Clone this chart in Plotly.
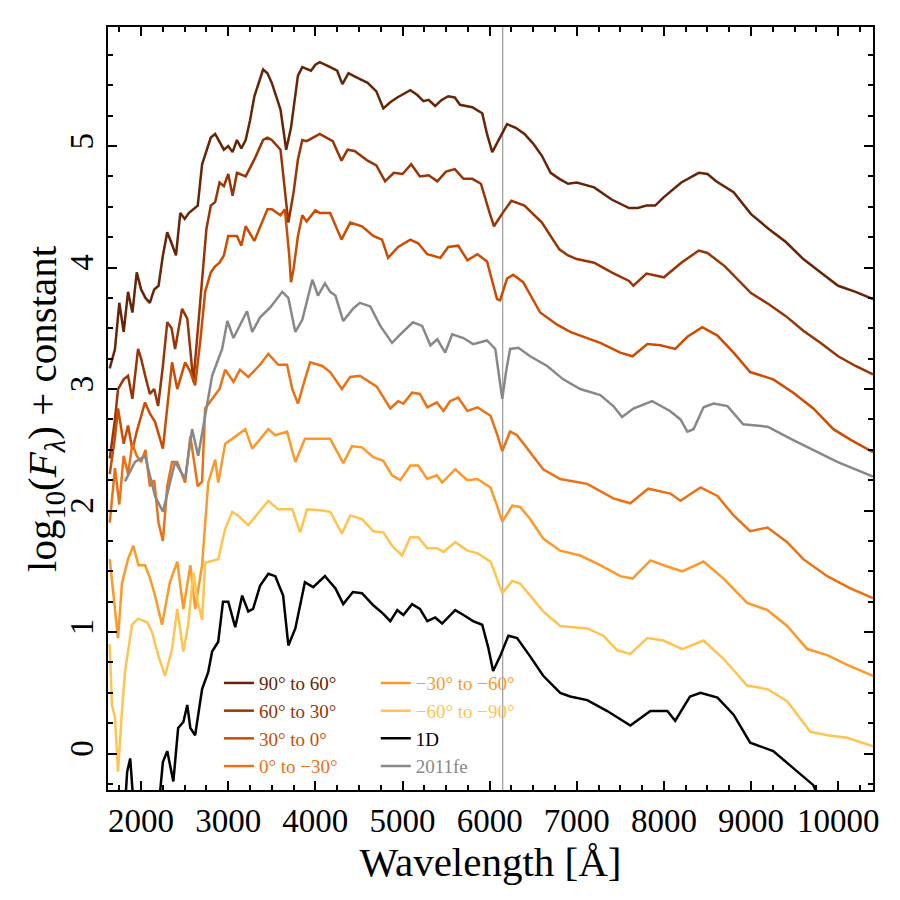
import plotly.graph_objects as go

# ---------------- data ----------------
wl_s1 = [1640,1700,1750,1800,1850,1900,1950,2000,2050,2100,2150,2200,2250,2300,2350,2400,2450,2500,2550,2600,2650,2700,2750,2800,2850,2900,2950,3000,3050,3100,3150,3200,3250,3300,3400,3450,3500,3600,3665,3720,3770,3800,3850,3950,4000,4050,4170,4250,4310,4380,4460,4600,4700,4780,4860,4940,5090,5170,5240,5300,5375,5450,5525,5600,5660,5800,5915,5970,6030,6100,6200,6300,6400,6500,6600,6700,6800,6900,7000,7200,7400,7600,7700,7800,7900,8000,8200,8400,8500,8600,8800,9000,9200,9400,9600,9800,10000,10200,10400]
fx_s1 = [3.17,3.33,3.71,3.47,3.80,3.63,3.96,3.82,3.75,3.71,3.82,3.85,4.10,4.29,4.20,4.10,4.45,4.40,4.45,4.48,4.51,4.85,4.97,5.07,5.10,5.04,4.97,5.00,4.95,5.05,4.98,5.05,5.21,5.41,5.63,5.60,5.52,5.30,4.97,5.15,5.40,5.58,5.65,5.62,5.67,5.69,5.65,5.62,5.51,5.60,5.57,5.52,5.45,5.31,5.36,5.40,5.46,5.42,5.37,5.38,5.33,5.38,5.41,5.40,5.34,5.32,5.27,5.10,4.95,5.05,5.18,5.15,5.10,5.02,4.92,4.78,4.73,4.69,4.70,4.66,4.56,4.49,4.49,4.51,4.51,4.58,4.70,4.78,4.77,4.71,4.62,4.44,4.32,4.21,4.07,3.96,3.85,3.80,3.74]

wl_s2 = [1640,1700,1735,1800,1850,1900,1965,2000,2050,2100,2150,2195,2250,2300,2350,2390,2470,2530,2600,2650,2700,2750,2800,2850,2900,2950,3000,3050,3100,3200,3300,3400,3450,3500,3600,3650,3690,3750,3800,3850,3900,4000,4050,4200,4300,4370,4450,4600,4700,4800,4900,5000,5100,5200,5300,5400,5500,5600,5700,5800,5900,6000,6050,6150,6250,6400,6600,6800,6900,7000,7200,7400,7600,7650,7800,8000,8200,8400,8500,8700,9000,9200,9400,9600,9800,10000,10200,10400]
fx_s2 = [2.43,2.75,3.00,3.08,3.11,2.92,3.33,3.25,3.10,2.96,3.00,2.86,3.19,3.55,3.50,3.33,3.66,3.58,3.06,3.49,3.93,4.32,4.51,4.54,4.70,4.67,4.77,4.59,4.78,4.75,4.89,5.05,5.07,5.05,4.97,4.64,4.37,4.62,4.89,5.05,5.04,5.08,5.10,5.04,4.88,4.97,4.96,4.88,4.84,4.71,4.78,4.77,4.85,4.75,4.76,4.71,4.79,4.81,4.73,4.73,4.69,4.45,4.34,4.45,4.55,4.51,4.37,4.15,4.10,4.07,4.04,3.96,3.89,3.85,3.95,3.92,4.04,4.14,4.12,4.01,3.79,3.70,3.60,3.48,3.38,3.27,3.19,3.12]

wl_s3 = [1640,1700,1735,1800,1850,1900,1950,2045,2100,2160,2250,2300,2355,2415,2505,2560,2620,2680,2735,2800,2850,2900,2950,3000,3100,3150,3200,3300,3400,3450,3500,3600,3650,3700,3720,3750,3800,3850,3900,4000,4050,4170,4300,4400,4535,4665,4765,4835,4950,5090,5180,5285,5435,5525,5640,5745,5860,5970,6085,6120,6200,6270,6385,6580,6775,6925,7040,7270,7500,7640,7810,7960,8130,8270,8440,8615,8800,8990,9255,9485,9715,9945,10150,10400]
fx_s3 = [2.30,2.60,2.84,2.55,2.70,2.50,2.65,2.89,2.80,2.73,2.51,2.85,3.22,3.00,3.22,3.15,3.03,3.40,3.80,3.96,4.01,4.04,4.10,4.26,4.26,4.18,4.34,4.22,4.40,4.48,4.48,4.43,4.48,4.10,3.88,3.99,4.26,4.43,4.38,4.47,4.45,4.45,4.23,4.37,4.34,4.26,4.23,4.08,4.17,4.23,4.20,4.11,4.08,4.17,4.18,4.06,4.11,4.05,3.74,3.73,3.91,3.94,3.88,3.63,3.53,3.47,3.44,3.38,3.30,3.27,3.37,3.36,3.33,3.43,3.51,3.44,3.30,3.14,3.08,2.97,2.84,2.67,2.58,2.48]

wl_s4 = [1640,1700,1750,1800,1850,1900,1950,2000,2050,2100,2150,2200,2250,2300,2355,2415,2505,2565,2650,2700,2735,2815,2900,2965,3060,3135,3230,3365,3460,3575,3675,3735,3800,3880,3940,4080,4170,4305,4400,4510,4705,4860,4950,5010,5110,5200,5285,5395,5470,5545,5640,5745,5860,6010,6085,6145,6235,6315,6465,6615,6810,7120,7420,7615,7820,8075,8190,8420,8615,8800,8990,9190,9415,9600,9875,10140,10400]
fx_s4 = [1.90,2.35,2.05,2.45,2.30,2.55,2.45,2.40,2.50,2.20,2.25,1.90,1.75,2.20,2.40,2.40,2.23,2.61,2.20,2.24,2.84,2.92,3.00,3.16,3.06,3.16,3.10,3.20,3.29,3.20,3.20,3.00,2.88,3.08,3.22,3.19,3.14,3.00,3.10,3.11,3.02,2.84,2.90,2.88,2.97,2.96,2.85,2.89,2.82,2.90,2.93,2.82,2.85,2.78,2.63,2.49,2.65,2.62,2.48,2.34,2.26,2.22,2.10,2.06,2.18,2.14,2.08,2.19,2.12,1.96,1.83,1.86,1.74,1.60,1.46,1.36,1.28]

wl_s5 = [1640,1700,1735,1780,1850,1910,1970,2045,2100,2160,2240,2330,2415,2485,2565,2620,2700,2770,2850,2885,2965,3045,3195,3275,3460,3540,3675,3770,3880,4080,4170,4320,4420,4535,4665,4780,4880,4975,5090,5180,5285,5395,5455,5605,5745,5860,6010,6085,6145,6260,6350,6465,6615,6810,7040,7270,7500,7640,7845,8040,8210,8455,8685,8955,9190,9415,9645,9875,10105,10400]
fx_s5 = [1.60,1.20,0.95,1.40,1.60,1.71,1.55,1.55,1.45,1.30,1.06,1.41,1.58,1.19,1.55,1.19,1.55,2.23,2.42,2.23,2.55,2.59,2.67,2.51,2.67,2.62,2.65,2.40,2.59,2.59,2.59,2.39,2.53,2.52,2.44,2.41,2.29,2.25,2.37,2.37,2.26,2.29,2.23,2.34,2.25,2.26,2.19,2.04,1.91,2.04,2.03,1.93,1.77,1.67,1.63,1.55,1.46,1.44,1.59,1.54,1.50,1.58,1.44,1.24,1.18,1.05,0.86,0.81,0.73,0.64]

wl_s6 = [1640,1665,1700,1735,1780,1815,1895,1965,2070,2125,2200,2275,2355,2415,2485,2540,2600,2650,2700,2735,2885,2965,3045,3110,3230,3460,3575,3735,3825,3905,4080,4170,4305,4400,4535,4665,4780,4880,4995,5090,5180,5285,5395,5470,5605,5745,5860,6010,6085,6145,6260,6350,6465,6615,6810,7120,7305,7465,7615,7810,7995,8210,8455,8685,8955,9190,9415,9680,9875,10105,10400]
fx_s6 = [0.90,0.40,0.30,-0.15,0.35,0.67,1.06,1.11,1.08,1.00,0.80,0.64,0.86,1.19,0.84,1.06,1.49,1.25,1.10,1.57,1.60,1.85,1.99,1.96,1.88,2.08,2.01,2.01,1.82,2.01,2.00,1.99,1.81,1.96,1.93,1.83,1.82,1.71,1.63,1.78,1.78,1.69,1.69,1.66,1.74,1.67,1.65,1.58,1.44,1.32,1.42,1.40,1.30,1.17,1.05,1.03,0.97,0.85,0.82,0.95,0.93,0.86,0.93,0.78,0.56,0.53,0.43,0.18,0.15,0.13,0.06]

wl_1d = [1800,1840,1875,1900,1950,2100,2200,2250,2300,2370,2425,2485,2530,2565,2620,2700,2770,2815,2885,2940,3000,3080,3160,3230,3285,3365,3460,3540,3630,3690,3770,3850,3880,3975,4110,4170,4230,4320,4430,4535,4665,4780,4860,4940,5010,5110,5200,5285,5375,5455,5605,5700,5810,5915,5985,6040,6120,6215,6315,6465,6615,6810,6925,7120,7350,7615,7845,8040,8130,8300,8420,8615,8800,8990,9255,9485,9715,9800]
fx_1d = [-0.60,-0.15,-0.04,-0.29,-0.60,-0.80,-0.45,-0.07,0.02,-0.23,0.21,0.26,0.40,0.21,0.15,0.53,0.67,0.84,0.92,1.25,1.25,1.04,1.30,1.17,1.19,1.38,1.48,1.46,1.30,0.89,1.03,1.33,1.41,1.37,1.46,1.41,1.36,1.23,1.33,1.32,1.22,1.15,1.09,1.18,1.14,1.23,1.19,1.09,1.12,1.07,1.18,1.14,1.09,1.06,0.87,0.68,0.80,0.97,0.95,0.80,0.64,0.50,0.47,0.44,0.35,0.23,0.35,0.35,0.27,0.47,0.50,0.46,0.32,0.09,0.02,-0.12,-0.26,-0.40]

wl_fe = [1815,1930,2045,2160,2250,2390,2505,2585,2655,2735,2815,2930,2990,3060,3215,3275,3365,3480,3620,3690,3770,3850,3965,4030,4110,4170,4230,4320,4430,4510,4630,4745,4880,4975,5120,5225,5320,5400,5490,5570,5700,5810,5970,6065,6110,6145,6190,6235,6330,6465,6660,6845,7040,7270,7420,7520,7650,7865,8070,8190,8270,8340,8455,8570,8730,8910,9190,9485,9990,10400]
fx_fe = [2.24,2.40,2.45,2.12,1.99,2.40,2.26,2.67,2.45,2.78,3.11,3.33,3.56,3.42,3.64,3.47,3.59,3.67,3.80,3.75,3.47,3.57,3.90,3.77,3.87,3.80,3.77,3.56,3.66,3.71,3.68,3.52,3.38,3.45,3.55,3.52,3.36,3.41,3.30,3.45,3.42,3.37,3.40,3.33,3.10,2.92,3.15,3.33,3.34,3.27,3.19,3.08,3.00,2.95,2.86,2.77,2.84,2.90,2.82,2.75,2.65,2.67,2.85,2.88,2.86,2.71,2.69,2.58,2.40,2.28]

labels = ["90° to 60°", "60° to 30°", "30° to 0°", "0° to −30°",
          "−30° to −60°", "−60° to −90°", "1D", "2011fe"]
colors = ["#662506", "#993404", "#cc4c02", "#ec7014",
          "#fe9929", "#fec44f", "#000000", "#888888"]
series_wl = [wl_s1, wl_s2, wl_s3, wl_s4, wl_s5, wl_s6, wl_1d, wl_fe]
series_fx = [fx_s1, fx_s2, fx_s3, fx_s4, fx_s5, fx_s6, fx_1d, fx_fe]

x_ticks = [2000, 3000, 4000, 5000, 6000, 7000, 8000, 9000, 10000]
y_ticks = [0, 1, 2, 3, 4, 5]

SI_LINE = 6150
X_RANGE = [1620, 10400]
Y_RANGE = [-0.3, 5.98]

FONT = "Liberation Serif"

fig = go.Figure()
for i, (w, f, lab, c) in enumerate(zip(series_wl, series_fx, labels, colors)):
    fig.add_trace(go.Scatter(
        x=w, y=f, mode="lines",
        line=dict(color=c, width=2.5),
        name=f'<span style="color:{c}">{lab}</span>',
        legend="legend" if i < 4 else "legend2",
    ))

fig.add_vline(x=SI_LINE, line=dict(color="#999999", width=1.2), layer="below")

axis_common = dict(
    showgrid=False, zeroline=False,
    showline=True, linecolor="black", linewidth=2.2, mirror="allticks",
    ticks="inside", ticklen=9, tickwidth=2, tickcolor="black",
    tickfont=dict(family=FONT, size=33, color="black"),
)

fig.update_xaxes(
    range=X_RANGE, tickmode="array", tickvals=x_ticks,
    ticktext=[str(v) for v in x_ticks],
    minor=dict(ticks="inside", ticklen=5, tickwidth=1.5, dtick=250, tick0=0, tickcolor="black"),
    title=dict(text="Wavelength [Å]", font=dict(family=FONT, size=41, color="black"), standoff=10),
    **axis_common,
)
fig.update_yaxes(
    range=Y_RANGE, tickmode="array", tickvals=y_ticks,
    ticktext=[str(v) for v in y_ticks], tickangle=-90,
    minor=dict(ticks="inside", ticklen=5, tickwidth=1.5, dtick=0.25, tick0=0, tickcolor="black"),
    **axis_common,
)

fig.add_annotation(
    text="log<sub>10</sub>(<i>F</i><sub><i>λ</i></sub>) + constant",
    xref="paper", yref="paper", x=-0.083, y=0.5,
    xanchor="center", yanchor="middle", textangle=-90, showarrow=False,
    font=dict(family=FONT, size=41, color="black"),
)

legend_common = dict(
    bgcolor="rgba(0,0,0,0)", borderwidth=0,
    font=dict(family=FONT, size=19),
    itemwidth=30, tracegroupgap=0,
    xanchor="left", yanchor="top",
)
fig.update_layout(
    width=900, height=900,
    margin=dict(l=108, r=27, t=27, b=110),
    paper_bgcolor="white", plot_bgcolor="white",
    showlegend=True,
    legend=dict(x=0.145, y=0.165, **legend_common),
    legend2=dict(x=0.35, y=0.165, **legend_common),
)

fig.write_html("out.html")
